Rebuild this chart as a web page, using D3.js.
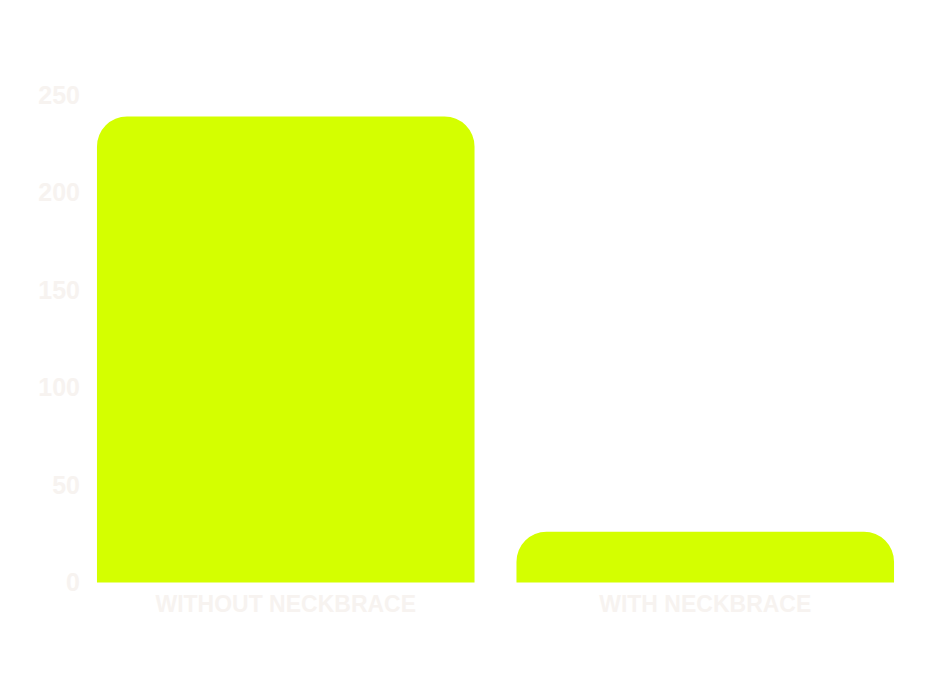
<!DOCTYPE html>
<html>
<head>
<meta charset="utf-8">
<script src="https://cdn.jsdelivr.net/npm/d3@7"></script>
<style>
  body { margin: 0; background: #fff; }
  text { font-family: "Liberation Sans", Arial, sans-serif; font-weight: bold; }
</style>
</head>
<body>
<div id="chart"></div>
<script>
const categories = ['WITHOUT NECKBRACE', 'WITH NECKBRACE'];
const values = [239, 26];
const yTicks = [0, 50, 100, 150, 200, 250];

const width = 932, height = 699;
const barColor = '#d4ff00';
const textColor = '#f7f3f0';
const radius = 30;

let svg = d3.select('#chart')
  .append('svg')
  .attr('width', width)
  .attr('height', height);

let x = d3.scaleBand()
  .domain(categories)
  .range([76, 915])
  .paddingInner(0.1)
  .paddingOuter(0.05);

let y = d3.scaleLinear()
  .domain([0, 250])
  .range([582.5, 95]);

// rounded top corners only
function barPath(x0, w, yTop, yBottom, r) {
  r = Math.min(r, w / 2, yBottom - yTop);
  return `M${x0},${yBottom}V${yTop + r}` +
    `A${r},${r} 0 0 1 ${x0 + r},${yTop}` +
    `H${x0 + w - r}` +
    `A${r},${r} 0 0 1 ${x0 + w},${yTop + r}` +
    `V${yBottom}Z`;
}

svg.selectAll('path.bar')
  .data(categories)
  .enter()
  .append('path')
  .attr('class', 'bar')
  .attr('d', (d, i) => barPath(x(d), x.bandwidth(), y(values[i]), y(0), radius))
  .attr('fill', barColor);

// y axis
let yAxis = svg.append('g')
  .attr('transform', 'translate(80,0)')
  .call(d3.axisLeft(y).tickValues(yTicks).tickSize(0).tickPadding(0));
yAxis.select('.domain').remove();
yAxis.selectAll('text')
  .attr('fill', textColor)
  .style('font-size', '25px')
  .style('font-family', '"Liberation Sans", Arial, sans-serif')
  .style('font-weight', 'bold');

// x axis
let xAxis = svg.append('g')
  .attr('transform', 'translate(0,' + y(0) + ')')
  .call(d3.axisBottom(x).tickSize(0).tickPadding(13));
xAxis.select('.domain').remove();
xAxis.selectAll('text')
  .attr('fill', textColor)
  .style('font-size', '23px')
  .style('font-family', '"Liberation Sans", Arial, sans-serif')
  .style('font-weight', 'bold');
</script>
</body>
</html>
